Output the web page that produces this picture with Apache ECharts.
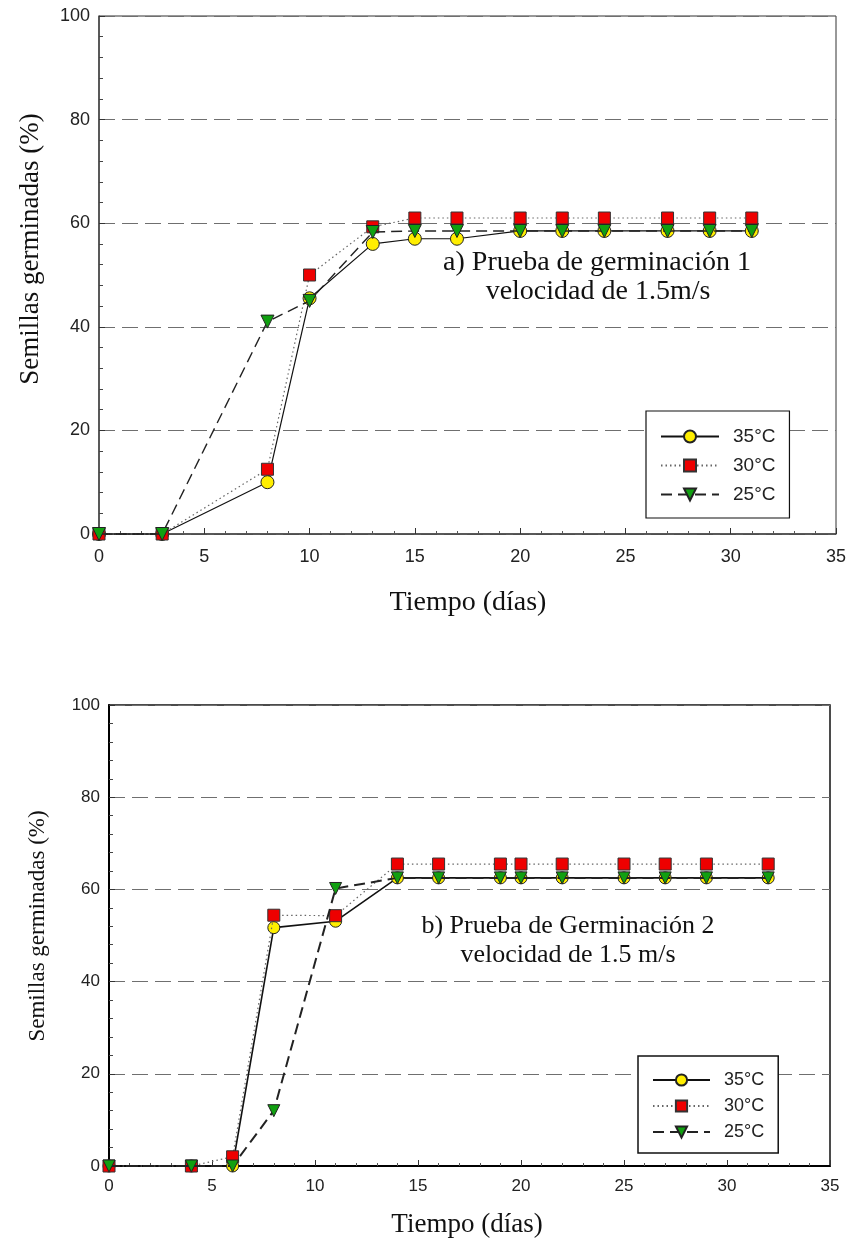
<!DOCTYPE html>
<html>
<head>
<meta charset="utf-8">
<script src="https://cdn.jsdelivr.net/npm/echarts@6/dist/echarts.min.js"></script>
<style>
html,body{margin:0;padding:0;background:#fff;}
#chart{width:851px;height:1243px;}
</style>
</head>
<body>
<div id="chart"></div>
<script>
// ---- Data ----
const seriesNames = ['35°C', '30°C', '25°C'];

// Panel a) Prueba de germinación 1
const daysA = [0, 3, 8, 10, 13, 15, 17, 20, 22, 24, 27, 29, 31];
const a35 = [0, 0, 10, 45.5, 56, 57, 57, 58.5, 58.5, 58.5, 58.5, 58.5, 58.5];
const a30 = [0, 0, 12.5, 50, 59.3, 61, 61, 61, 61, 61, 61, 61, 61];
const a25 = [0, 0, 41, 45, 58.3, 58.5, 58.5, 58.5, 58.5, 58.5, 58.5, 58.5, 58.5];

// Panel b) Prueba de Germinación 2
const daysB = [0, 4, 6, 8, 11, 14, 16, 19, 20, 22, 25, 27, 29, 32];
const b35 = [0, 0, 0, 51.7, 53.1, 62.5, 62.5, 62.5, 62.5, 62.5, 62.5, 62.5, 62.5, 62.5];
const b30 = [0, 0, 2, 54.4, 54.3, 65.5, 65.5, 65.5, 65.5, 65.5, 65.5, 65.5, 65.5, 65.5];
const b25 = [0, 0, 0, 12, 60.2, 62.5, 62.5, 62.5, 62.5, 62.5, 62.5, 62.5, 62.5, 62.5];

const xTicks = [0, 5, 10, 15, 20, 25, 30, 35];
const yTicks = [0, 20, 40, 60, 80, 100];

const titleA1 = 'a) Prueba de germinación 1';
const titleA2 = 'velocidad de 1.5m/s';
const titleB1 = 'b) Prueba de Germinación 2';
const titleB2 = 'velocidad de 1.5 m/s';
const yTitle = 'Semillas germinadas (%)';
const xTitle = 'Tiempo (días)';

// ---- Helpers ----
function pairs(xs, ys) { return xs.map((x, i) => [x, ys[i]]); }

const SERIF = '"Liberation Serif", "DejaVu Serif", serif';
const SANS = '"Liberation Sans", Arial, sans-serif';

function mkX(gi, axisColor, axisW, fs, margin) {
  return {
    type: 'value', gridIndex: gi, min: xTicks[0], max: xTicks[xTicks.length - 1], interval: 5,
    axisLine: { show: true, onZero: false, lineStyle: { color: axisColor, width: axisW } },
    axisTick: { show: true, inside: true, length: 6, lineStyle: { color: '#333', width: 1 } },
    minorTick: { show: true, splitNumber: 5, length: 3, lineStyle: { color: '#555', width: 1 } },
    axisLabel: { color: '#222', fontFamily: SANS, fontSize: fs, margin: margin },
    splitLine: { show: false }
  };
}
function mkY(gi, axisColor, axisW, fs, margin) {
  return {
    type: 'value', gridIndex: gi, min: yTicks[0], max: yTicks[yTicks.length - 1], interval: 20,
    axisLine: { show: true, onZero: false, lineStyle: { color: axisColor, width: axisW } },
    axisTick: { show: true, inside: true, length: 6, lineStyle: { color: '#333', width: 1 } },
    minorTick: { show: true, splitNumber: 5, length: 4, lineStyle: { color: '#444', width: 1 } },
    axisLabel: { color: '#222', fontFamily: SANS, fontSize: fs, margin: margin },
    splitLine: { show: true, lineStyle: { color: '#6f6f6f', width: 1, type: [16, 7] } }
  };
}

function series35(data, xi, w, size) {
  return {
    name: seriesNames[0], type: 'line', xAxisIndex: xi, yAxisIndex: xi, data: data, clip: false,
    symbol: 'circle', symbolSize: size,
    lineStyle: { color: '#111', width: w, type: 'solid' },
    itemStyle: { color: '#ffee00', borderColor: '#222', borderWidth: 1 },
    z: 3
  };
}
function series30(data, xi, w, size) {
  return {
    name: seriesNames[1], type: 'line', xAxisIndex: xi, yAxisIndex: xi, data: data, clip: false,
    symbol: 'rect', symbolSize: size,
    lineStyle: { color: '#666', width: w, type: [1.5, 3] },
    itemStyle: { color: '#ee0000', borderColor: '#333', borderWidth: 1 },
    z: 4
  };
}
function series25(data, xi, w, size) {
  return {
    name: seriesNames[2], type: 'line', xAxisIndex: xi, yAxisIndex: xi, data: data, clip: false,
    symbol: 'triangle', symbolRotate: 180, symbolSize: size,
    lineStyle: { color: '#222', width: w, type: [11, 6] },
    itemStyle: { color: '#11a011', borderColor: '#222', borderWidth: 1 },
    z: 5
  };
}

const chart = echarts.init(document.getElementById('chart'), null, { renderer: 'canvas' });

const option = {
  backgroundColor: '#fff',
  animation: false,
  grid: [
    { left: 99, top: 16, width: 737, height: 518, show: true, borderColor: '#333', borderWidth: 1, backgroundColor: 'transparent' },
    { left: 109, top: 705, width: 721, height: 461, show: true, borderColor: '#111', borderWidth: 1.5, backgroundColor: 'transparent' }
  ],
  xAxis: [mkX(0, '#444', 1.5, 18, 14), mkX(1, '#000', 2, 17, 12)],
  yAxis: [mkY(0, '#444', 1.5, 18, 9), mkY(1, '#000', 2, 17, 9)],
  legend: [
    {
      data: seriesNames, orient: 'vertical', left: 646, top: 411,
      backgroundColor: '#fff', borderColor: '#111', borderWidth: 1.2,
      padding: [16, 14, 14, 14], itemWidth: 58, itemHeight: 15, itemGap: 10,
      textStyle: { fontFamily: SANS, fontSize: 19, color: '#222', padding: [0, 0, 0, 9] },
      selectedMode: false
    },
    {
      data: seriesNames, orient: 'vertical', left: 638, top: 1056,
      backgroundColor: '#fff', borderColor: '#111', borderWidth: 1.5,
      padding: [15, 14, 12, 14], itemWidth: 57, itemHeight: 14, itemGap: 8,
      textStyle: { fontFamily: SANS, fontSize: 18, color: '#222', padding: [0, 0, 0, 9] },
      selectedMode: false
    }
  ],
  series: [
    series35(pairs(daysA, a35), 0, 1.2, 13),
    series30(pairs(daysA, a30), 0, 1.2, 12),
    series25(pairs(daysA, a25), 0, 1.4, 13),
    series35(pairs(daysB, b35), 1, 1.6, 12),
    series30(pairs(daysB, b30), 1, 1.2, 12),
    series25(pairs(daysB, b25), 1, 2, 12)
  ],
  graphic: [
    { type: 'text', x: 597, y: 263, style: { text: titleA1, font: '28px ' + SERIF, fill: '#111', textAlign: 'center', textVerticalAlign: 'middle' } },
    { type: 'text', x: 598, y: 292, style: { text: titleA2, font: '28px ' + SERIF, fill: '#111', textAlign: 'center', textVerticalAlign: 'middle' } },
    { type: 'text', x: 568, y: 926, style: { text: titleB1, font: '26px ' + SERIF, fill: '#111', textAlign: 'center', textVerticalAlign: 'middle' } },
    { type: 'text', x: 568, y: 955, style: { text: titleB2, font: '26px ' + SERIF, fill: '#111', textAlign: 'center', textVerticalAlign: 'middle' } },
    { type: 'text', x: 31, y: 249, rotation: Math.PI / 2, style: { text: yTitle, font: '27px ' + SERIF, fill: '#111', textAlign: 'center', textVerticalAlign: 'middle' } },
    { type: 'text', x: 38, y: 926, rotation: Math.PI / 2, style: { text: yTitle, font: '23px ' + SERIF, fill: '#111', textAlign: 'center', textVerticalAlign: 'middle' } },
    { type: 'text', x: 468, y: 603, style: { text: xTitle, font: '28px ' + SERIF, fill: '#111', textAlign: 'center', textVerticalAlign: 'middle' } },
    { type: 'text', x: 467, y: 1225, style: { text: xTitle, font: '27px ' + SERIF, fill: '#111', textAlign: 'center', textVerticalAlign: 'middle' } }
  ]
};
chart.setOption(option);
</script>
</body>
</html>
